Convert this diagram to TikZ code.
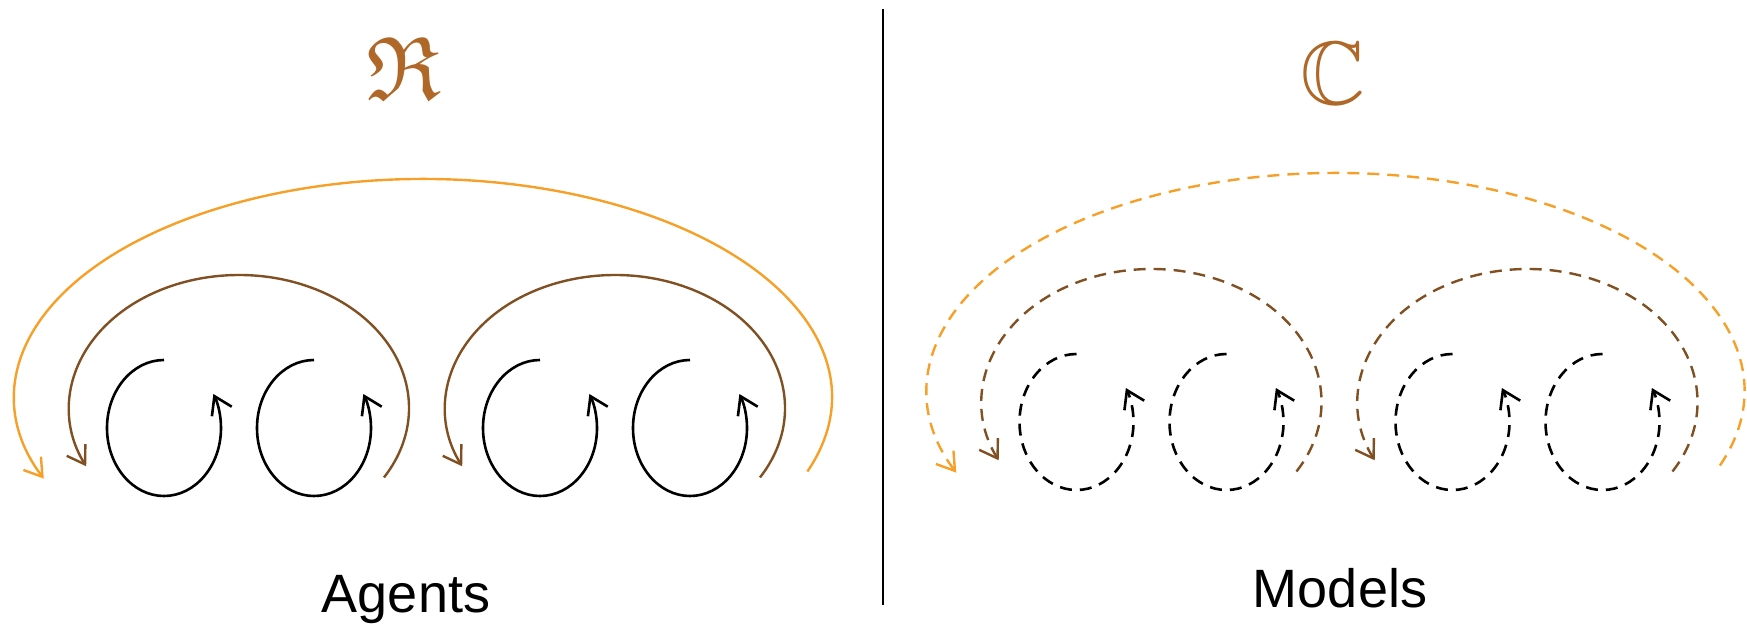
\documentclass[tikz,border=0pt]{standalone}
\usepackage{amssymb}
\usepackage{fontspec}
\setmainfont{Liberation Sans}
\usetikzlibrary{arrows.meta}
\definecolor{orangec}{RGB}{246,160,40}
\definecolor{brownc}{RGB}{128,80,35}
\definecolor{symbc}{RGB}{176,104,40}
\tikzset{
  barb/.tip={Straight Barb[length=17pt,width=22pt]},
  loopline/.style={black, line width=2.6pt, -barb},
  midline/.style={brownc, line width=2.4pt, -barb},
  outline/.style={orangec, line width=2.4pt, -barb},
  dashedline/.style={dash pattern=on 12pt off 8pt},
  label/.style={font=\fontsize{54}{64}\selectfont, anchor=base, inner sep=0pt},
  symb/.style={text=symbc, font=\fontsize{90}{100}\selectfont, inner sep=0pt},
}
\newcommand{\looparc}[2]{% center, extra options
  \draw[loopline,#2] ([shift={(90:57pt and 68pt)}]#1) arc[start angle=90, end angle=390, x radius=57pt, y radius=68pt];}
\newcommand{\midarc}[2]{%
  \draw[midline,#2] ([shift={(-31.5:170pt and 133pt)}]#1) arc[start angle=-31.5, end angle=206, x radius=170pt, y radius=133pt];}
\newcommand{\outarc}[2]{%
  \draw[outline,#2] ([shift={(-20:409pt and 218pt)}]#1) arc[start angle=-20, end angle=202, x radius=409pt, y radius=218pt];}
\begin{document}
\begin{tikzpicture}[x=1pt,y=1pt]
\useasboundingbox (0,0) rectangle (1747,633);
% centers, left panel
\coordinate (L1) at (164,205);
\coordinate (L2) at (314,205);
\coordinate (L3) at (540,205);
\coordinate (L4) at (690,205);
\coordinate (LB1) at (239,225);
\coordinate (LB2) at (615,225);
\coordinate (LO) at (423,236);
% centers, right panel
\coordinate (R1) at (1076.5,211);
\coordinate (R2) at (1226.5,211);
\coordinate (R3) at (1452.5,211);
\coordinate (R4) at (1602.5,211);
\coordinate (RB1) at (1151.5,231);
\coordinate (RB2) at (1527.5,231);
\coordinate (RO) at (1335.5,242);
% divider
\coordinate (top) at (883,624);
\coordinate (bot) at (883,28);
\draw[line width=2.5pt] (top) -- (bot);
% left panel (solid)
\looparc{L1}{}
\looparc{L2}{}
\looparc{L3}{}
\looparc{L4}{}
\midarc{LB1}{}
\midarc{LB2}{}
\outarc{LO}{}
% right panel (dashed)
\looparc{R1}{dashedline}
\looparc{R2}{dashedline}
\looparc{R3}{dashedline}
\looparc{R4}{dashedline}
\midarc{RB1}{dashedline}
\midarc{RB2}{dashedline}
\outarc{RO}{dashedline}
% symbols and labels
\node[symb] (sR) at (404,565) {$\mathfrak{R}$};
\node[symb] (sC) at (1333,559) {$\mathbb{C}$};
\node[label] (agents) at (406,21) {Agents};
\node[label] (models) at (1340,26) {Models};
\end{tikzpicture}
\end{document}
